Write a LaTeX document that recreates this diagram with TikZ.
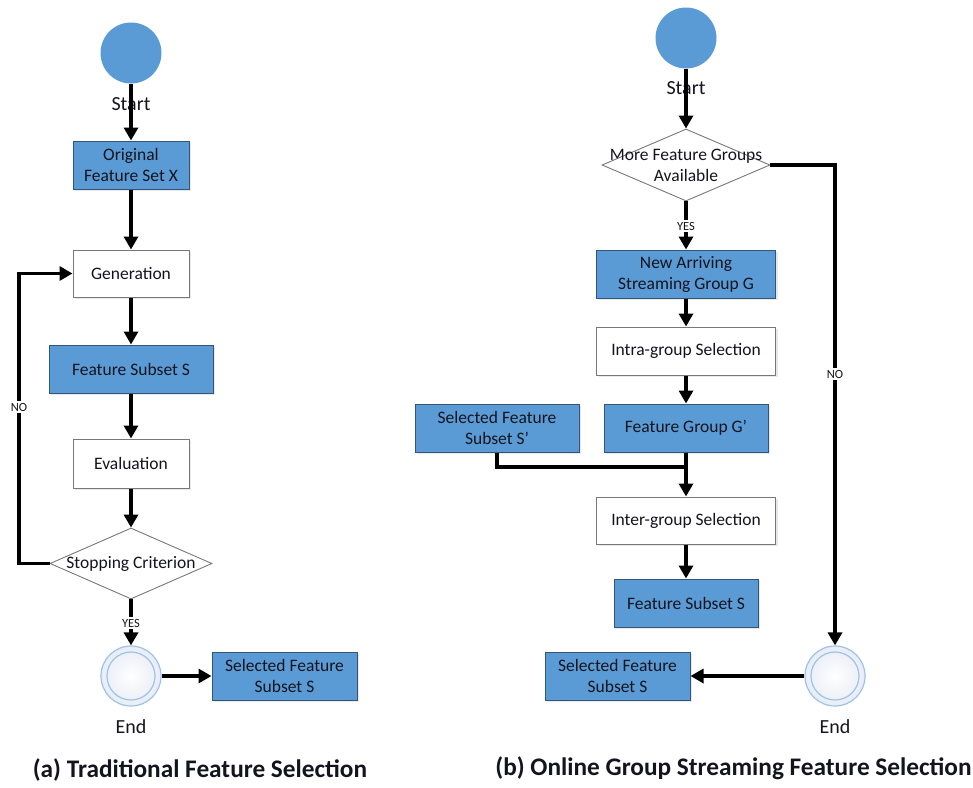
\documentclass[tikz,border=0pt]{standalone}
\usepackage{fontspec}
\setmainfont{Carlito}
\usetikzlibrary{arrows.meta,shapes.geometric,shadows}
\definecolor{boxblue}{RGB}{91,155,213}
\definecolor{boxedge}{RGB}{52,84,120}
\definecolor{grayedge}{RGB}{120,120,120}
\definecolor{ringblue}{RGB}{157,195,230}
\definecolor{txt}{RGB}{20,20,30}
\tikzset{
  bluebox/.style={draw=boxedge, line width=1pt, fill=boxblue, rectangle, inner sep=0pt, align=center,
    text=txt, font=\fontsize{17.5}{21}\selectfont,
    drop shadow={opacity=0.18, shadow xshift=2pt, shadow yshift=-2pt}},
  whitebox/.style={draw=grayedge, line width=1pt, fill=white, rectangle, inner sep=0pt, align=center,
    text=txt, font=\fontsize{17.5}{21}\selectfont,
    drop shadow={opacity=0.18, shadow xshift=2pt, shadow yshift=-2pt}},
  decide/.style={draw=grayedge, line width=0.9pt, fill=white, diamond, inner sep=0pt},
  dtext/.style={align=center, text=txt, font=\fontsize{17.5}{21}\selectfont, inner sep=0pt},
  startdot/.style={circle, fill=boxblue, draw=none, minimum size=61pt, inner sep=0pt},
  enddot/.style={circle, draw=ringblue, line width=1.2pt, minimum size=60pt, inner sep=0pt,
    inner color=white, outer color={rgb,255:red,232;green,236;blue,246}},
  innerring/.style={circle, draw=ringblue, line width=1.2pt, minimum size=48pt, inner sep=0pt},
  termtext/.style={font=\fontsize{20}{24}\selectfont, text=txt, inner sep=0pt},
  yesno/.style={font=\fontsize{12.5}{14}\selectfont, text=txt, fill=white, inner sep=2pt},
  title/.style={font=\bfseries\fontsize{25.3}{29}\selectfont, text=txt, inner sep=0pt},
  arr/.style={line width=3.5pt, -{Triangle[width=14pt,length=13pt]}},
  plain/.style={line width=3.5pt},
}
\begin{document}
\begin{tikzpicture}[x=1pt,y=-1pt]
\useasboundingbox (0,0) rectangle (973,787);
% ---------- (a) ----------
\node[startdot] (startA) at (131,53) {};
\node[termtext] (startAt) at (131,104) {Start};
\node[bluebox, minimum width=116pt, minimum height=48pt] (origA) at (131,165) {Original\\Feature Set X};
\node[whitebox, minimum width=116pt, minimum height=47pt] (genA) at (131,273.5) {Generation};
\node[bluebox, minimum width=164pt, minimum height=48pt] (subA) at (131,369) {Feature Subset S};
\node[whitebox, minimum width=116pt, minimum height=49pt] (evalA) at (131,463.5) {Evaluation};
\node[decide, minimum width=162pt, minimum height=71pt] (stopA) at (131,563.5) {};
\node[dtext] (stopAt) at (131,563.5) {Stopping Criterion};
\node[enddot] (endA) at (131,676) {};
\node[innerring] (endAi) at (131,676) {};
\node[termtext] (endAt) at (131,727) {End};
\node[bluebox, minimum width=145pt, minimum height=48pt] (selA) at (284.5,676) {Selected Feature\\Subset S};
\coordinate (noA1) at (19,563.5);
\coordinate (noA2) at (19,273.5);
\draw[arr] (startA.south) -- (origA.north);
\draw[arr] (origA.south) -- (genA.north);
\draw[arr] (genA.south) -- (subA.north);
\draw[arr] (subA.south) -- (evalA.north);
\draw[arr] (evalA.south) -- (stopA.north);
\draw[arr] (stopA.south) -- (endA.north);
\draw[arr] (endA.east) -- (selA.west);
\draw[arr] (stopA.west) -- (noA1) -- (noA2) -- (genA.west);
\node[yesno] (yesA) at (131,623) {YES};
\node[yesno] (noA) at (19,407) {NO};
\node[title] (titleA) at (200,770) {(a) Traditional Feature Selection};
% ---------- (b) ----------
\node[startdot] (startB) at (686,38) {};
\node[termtext] (startBt) at (686,88) {Start};
\node[decide, minimum width=168pt, minimum height=72pt] (moreB) at (686,165) {};
\node[dtext] (moreBt) at (686,165) {More Feature Groups\\Available};
\node[bluebox, minimum width=179pt, minimum height=48pt] (newB) at (686,274) {New Arriving\\Streaming Group G};
\node[whitebox, minimum width=179pt, minimum height=48pt] (intraB) at (686,351) {Intra-group Selection};
\node[bluebox, minimum width=164pt, minimum height=48pt] (selSB) at (497,428) {Selected Feature\\Subset S'};
\node[bluebox, minimum width=164pt, minimum height=48pt] (gB) at (686,428) {Feature Group G'};
\node[whitebox, minimum width=179pt, minimum height=47pt] (interB) at (686,520.5) {Inter-group Selection};
\node[bluebox, minimum width=144pt, minimum height=48pt] (subB) at (686,603) {Feature Subset S};
\node[enddot] (endB) at (835,676) {};
\node[innerring] (endBi) at (835,676) {};
\node[termtext] (endBt) at (835,727) {End};
\node[bluebox, minimum width=145pt, minimum height=48pt] (selB) at (617.5,676) {Selected Feature\\Subset S};
\coordinate (merge) at (686,467);
\coordinate (noB1) at (835,165);
\draw[arr] (startB.south) -- (moreB.north);
\draw[arr] (moreB.south) -- (newB.north);
\draw[arr] (newB.south) -- (intraB.north);
\draw[arr] (intraB.south) -- (gB.north);
\draw[arr] (gB.south) -- (interB.north);
\draw[plain] (selSB.south) |- (merge);
\draw[arr] (interB.south) -- (subB.north);
\draw[arr] (moreB.east) -- (noB1) -- (endB.north);
\draw[arr] (endB.west) -- (selB.east);
\node[yesno] (yesB) at (686,226) {YES};
\node[yesno] (noB) at (835,374) {NO};
\node[title] (titleB) at (733.5,768) {(b) Online Group Streaming Feature Selection};
\end{tikzpicture}
\end{document}
